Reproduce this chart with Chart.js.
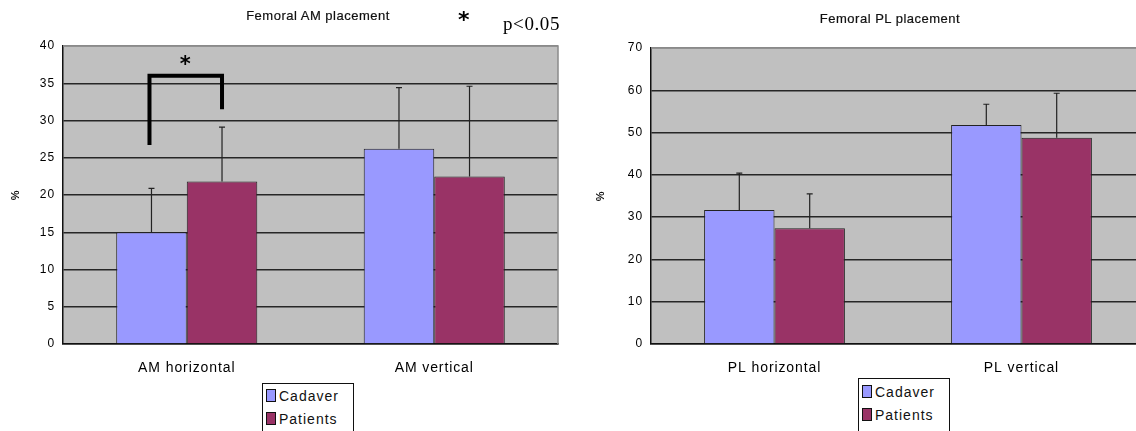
<!DOCTYPE html>
<html>
<head>
<meta charset="utf-8">
<script src="https://cdn.jsdelivr.net/npm/chart.js@4.4.1/dist/chart.umd.min.js"></script>
<style>
    html, body { margin: 0; padding: 0; background: #fff; width: 1136px; height: 431px; overflow: hidden; position: relative; }
    .box { position: absolute; top: 0; height: 431px; width: 580px; }
    .title { position: absolute; font-family: "Liberation Sans", Arial, sans-serif; font-size: 13px; color: #111; transform: translateX(-50%); white-space: nowrap; letter-spacing: 0.5px; -webkit-text-stroke: 0.2px #111; }
    .star { position: absolute; font-family: "DejaVu Sans", sans-serif; font-size: 22px; font-weight: bold; color: #000; }
    .pval { position: absolute; font-family: "Liberation Serif", "Times New Roman", serif; font-size: 19px; color: #000; letter-spacing: 0.6px; }
    .legend { position: absolute; border: 1.5px solid #111; width: 90px; height: 60px; background: #fff; font-family: "Liberation Sans", Arial, sans-serif; font-size: 14px; letter-spacing: 1px; color: #111; }
    .legend div { position: absolute; left: 3px; white-space: nowrap; }
    .legend span { display: inline-block; width: 8px; height: 11px; border: 1px solid #111; margin-right: 3px; vertical-align: -1px; }
</style>
</head>
<body>
<div class="box" style="left:0"><canvas id="amChart"></canvas></div>
<div class="box" style="left:580px"><canvas id="plChart"></canvas></div>

<div class="title" style="left:318px; top:8px">Femoral AM placement</div>
<div class="star" style="left:458px; top:7px">*</div>
<div class="pval" style="left:503px; top:13px">p&lt;0.05</div>
<div class="title" style="left:890px; top:11px">Femoral PL placement</div>

<div class="legend" style="left:262px; top:383px">
    <div style="top:4px"><span style="background:#9999ff"></span>Cadaver</div>
    <div style="top:27px"><span style="background:#993366"></span>Patients</div>
</div>
<div class="legend" style="left:858px; top:378px">
    <div style="top:5px"><span style="background:#9999ff"></span>Cadaver</div>
    <div style="top:28px"><span style="background:#993366"></span>Patients</div>
</div>

<script>
// Data
const seriesNames = ['Cadaver', 'Patients'];
const amLabels = ['AM horizontal', 'AM vertical'];
const amCadaver = [15.0, 26.2];
const amCadaverErr = [20.9, 34.4];
const amPatients = [21.8, 22.5];
const amPatientsErr = [29.1, 34.6];

const plLabels = ['PL horizontal', 'PL vertical'];
const plCadaver = [31.7, 51.8];
const plCadaverErr = [40.4, 56.7];
const plPatients = [27.4, 48.8];
const plPatientsErr = [35.5, 59.3];

// significance bracket on AM horizontal (values on y axis)
const bracketTop = 36;
const bracketLegs = [26.7, 31.5];

const colors = ['#9999ff', '#993366'];
const fontFamily = '"Liberation Sans", Arial, sans-serif';

// error bars: upper whisker only
const errorBars = {
    id: 'errorBars',
    afterDatasetsDraw(chart) {
        const ctx = chart.ctx;
        const y = chart.scales.y;
        ctx.save();
        ctx.strokeStyle = '#222';
        ctx.lineWidth = 1.2;
        chart.data.datasets.forEach((ds, i) => {
            const meta = chart.getDatasetMeta(i);
            meta.data.forEach((bar, j) => {
                const top = y.getPixelForValue(ds.errTop[j]);
                ctx.beginPath();
                ctx.moveTo(bar.x, bar.y);
                ctx.lineTo(bar.x, top);
                ctx.moveTo(bar.x - 3, top);
                ctx.lineTo(bar.x + 3, top);
                ctx.stroke();
            });
        });
        ctx.restore();
    }
};

// gray top/right frame of the plot area
const frame = {
    id: 'frame',
    beforeDatasetsDraw(chart) {
        const a = chart.chartArea;
        const ctx = chart.ctx;
        ctx.save();
        ctx.strokeStyle = '#8a8a8a';
        ctx.lineWidth = 1.5;
        ctx.beginPath();
        ctx.moveTo(a.left, a.top);
        ctx.lineTo(a.right, a.top);
        ctx.lineTo(a.right, a.bottom);
        ctx.stroke();
        ctx.restore();
    }
};

const bracket = {
    id: 'bracket',
    afterDatasetsDraw(chart) {
        const ctx = chart.ctx;
        const y = chart.scales.y;
        const x1 = chart.getDatasetMeta(0).data[0].x - 2;
        const x2 = chart.getDatasetMeta(1).data[0].x;
        const yt = y.getPixelForValue(bracketTop);
        ctx.save();
        ctx.strokeStyle = '#000';
        ctx.lineWidth = 4;
        ctx.lineJoin = 'miter';
        ctx.beginPath();
        ctx.moveTo(x1, y.getPixelForValue(bracketLegs[0]));
        ctx.lineTo(x1, yt);
        ctx.lineTo(x2, yt);
        ctx.lineTo(x2, y.getPixelForValue(bracketLegs[1]));
        ctx.stroke();
        ctx.fillStyle = '#000';
        ctx.font = 'bold 21px "DejaVu Sans", sans-serif';
        ctx.textAlign = 'center';
        ctx.textBaseline = 'middle';
        ctx.fillText('*', (x1 + x2) / 2, yt - 10);
        ctx.restore();
    }
};

// wider letter spacing like the original's font
const spacing = {
    id: 'spacing',
    beforeUpdate(chart) { chart.ctx.letterSpacing = '0.9px'; },
    beforeDraw(chart) { chart.ctx.letterSpacing = '0.9px'; }
};

function makeChart(id, labels, cad, cadErr, pat, patErr, yMax, yStep, opts, extraPlugins) {
    return new Chart(document.getElementById(id), {
        type: 'bar',
        data: {
            labels: labels,
            datasets: [{
                label: seriesNames[0],
                data: cad,
                errTop: cadErr,
                backgroundColor: colors[0],
                borderColor: '#222',
                borderWidth: 1
            }, {
                label: seriesNames[1],
                data: pat,
                errTop: patErr,
                backgroundColor: colors[1],
                borderColor: '#222',
                borderWidth: 1
            }]
        },
        options: {
            responsive: true,
            maintainAspectRatio: false,
            animation: false,
            categoryPercentage: 0.57,
            barPercentage: 1.0,
            layout: { padding: { left: 0, top: opts.top, right: opts.right, bottom: 0 } },
            plugins: {
                legend: { display: false },
                title: { display: false },
                tooltip: { enabled: false }
            },
            scales: {
                x: {
                    afterFit: s => { s.height = 431 - opts.bottom; },
                    grid: { display: false, drawTicks: false },
                    border: { display: true, color: '#111', width: 1.5 },
                    ticks: { color: '#000', font: { family: fontFamily, size: 14 }, padding: 16 }
                },
                y: {
                    min: 0,
                    max: yMax,
                    afterFit: s => { s.width = opts.yWidth; },
                    ticks: { stepSize: yStep, color: '#000', font: { family: fontFamily, size: 12 }, padding: 8 },
                    grid: {
                        drawTicks: false,
                        lineWidth: 1.5,
                        color: c => c.tick && c.tick.value === yMax ? '#8a8a8a' : '#262626'
                    },
                    border: { display: true, color: '#111', width: 1.5 },
                    title: {
                        display: true,
                        text: '%',
                        color: '#111',
                        font: { family: fontFamily, size: 11, weight: 'bold' },
                        padding: { top: opts.titlePad, bottom: 0 }
                    }
                }
            }
        },
        plugins: [spacing, {
            id: 'plotBg',
            beforeDraw(chart) {
                const a = chart.chartArea;
                chart.ctx.save();
                chart.ctx.fillStyle = '#c0c0c0';
                chart.ctx.fillRect(a.left, a.top, a.right - a.left, a.bottom - a.top);
                chart.ctx.restore();
            }
        }, frame, errorBars].concat(extraPlugins)
    });
}

makeChart('amChart', amLabels, amCadaver, amCadaverErr, amPatients, amPatientsErr, 40, 5,
    { top: 46, right: 22, bottom: 344, yWidth: 63, titlePad: 9 }, [bracket]);
makeChart('plChart', plLabels, plCadaver, plCadaverErr, plPatients, plPatientsErr, 70, 10,
    { top: 48, right: 15, bottom: 344, yWidth: 71, titlePad: 14 }, []);
</script>
</body>
</html>
